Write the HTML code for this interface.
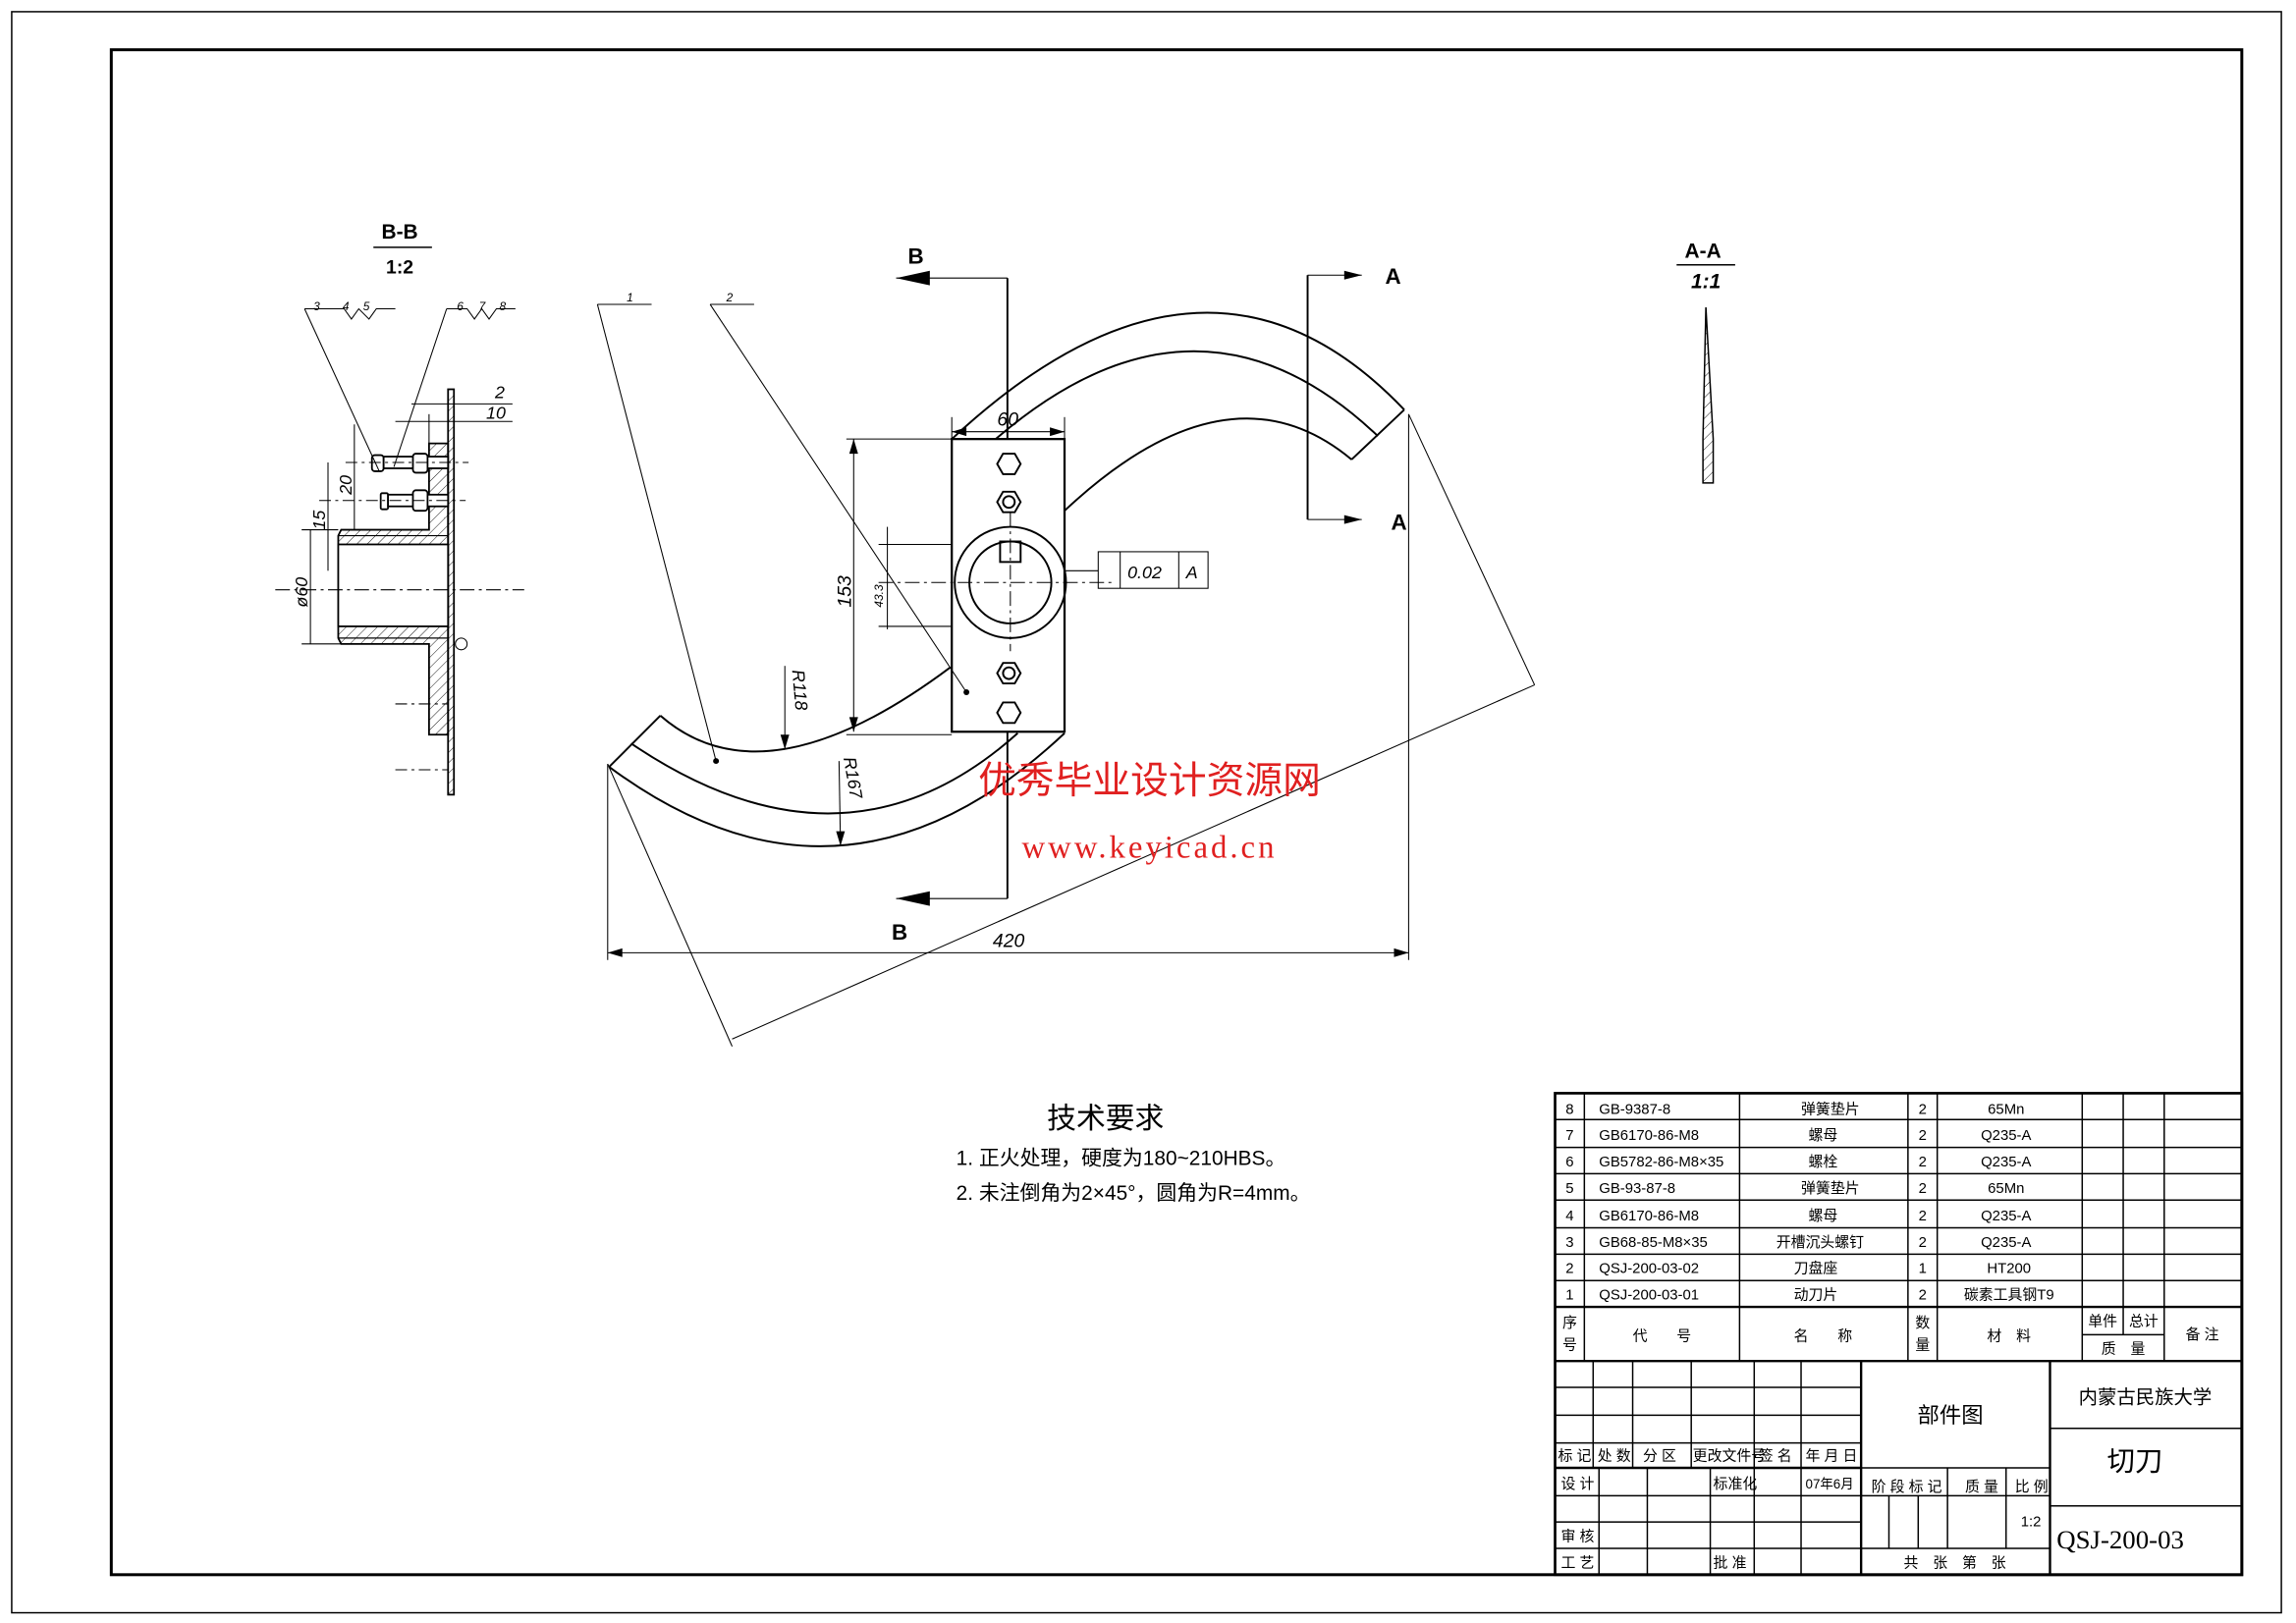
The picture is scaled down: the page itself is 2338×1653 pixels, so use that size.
<!DOCTYPE html>
<html><head><meta charset="utf-8"><style>
html,body{margin:0;padding:0;background:#fff;}
svg{display:block;}
text{font-family:"Liberation Sans","Noto Sans CJK SC",sans-serif;fill:#000;}
</style></head><body>
<svg width="2338" height="1653" viewBox="0 0 1568 1109" preserveAspectRatio="none" xmlns="http://www.w3.org/2000/svg">
<defs>
<pattern id="h" width="5" height="5" patternUnits="userSpaceOnUse" patternTransform="rotate(45)">
<line x1="0" y1="0" x2="0" y2="5" stroke="#000" stroke-width="0.6"/>
</pattern>
</defs>
<rect x="0" y="0" width="1568" height="1109" fill="#fff"/>
<rect x="8" y="8" width="1550" height="1094" fill="none" stroke="#000" stroke-width="1"/>
<rect x="76" y="34" width="1455" height="1042" fill="none" stroke="#000" stroke-width="2"/>

<g fill="none" stroke="#000" stroke-width="1.3">
<path d="M650,300 Q824,138 959,280"/>
<path d="M680,300 Q818,181 941,298"/>
<path d="M727,349 Q839,244 923,314"/>
<line x1="959" y1="280" x2="923" y2="314"/>
<path d="M649,456 Q522,551 451,489"/>
<path d="M695,501 Q577,607 431,508"/>
<path d="M727,501 Q576,643 416,524"/>
<line x1="451" y1="489" x2="416" y2="524"/>
<rect x="650" y="300" width="77" height="200" stroke-width="1.5"/>
<circle cx="690" cy="398" r="38"/>
<circle cx="690" cy="398" r="28"/>
<rect x="683" y="370" width="14" height="14"/>
<polygon points="681,317 685,310 693,310 697,317 693,324 685,324"/>
<polygon points="681,343 685,336 693,336 697,343 693,350 685,350"/>
<circle cx="689" cy="343" r="4"/>
<polygon points="681,460 685,453 693,453 697,460 693,467 685,467"/>
<circle cx="689" cy="460" r="4"/>
<polygon points="681,487 685,480 693,480 697,487 693,494 685,494"/>
</g>
<g fill="none" stroke="#000" stroke-width="0.7">
<line x1="600" y1="398" x2="760" y2="398" stroke-dasharray="10,3,2,3"/>
<line x1="690" y1="350" x2="690" y2="445" stroke-dasharray="10,3,2,3"/>
<line x1="688" y1="190" x2="688" y2="300" stroke-width="1.3"/>
<line x1="688" y1="190" x2="612" y2="190"/>
<line x1="688" y1="500" x2="688" y2="614" stroke-width="1.3"/>
<line x1="688" y1="614" x2="612" y2="614"/>
<line x1="893" y1="188" x2="893" y2="355" stroke-width="1.3"/>
<line x1="893" y1="188" x2="930" y2="188"/>
<line x1="893" y1="355" x2="930" y2="355"/>
<line x1="415" y1="522" x2="415" y2="656"/>
<line x1="962" y1="283" x2="962" y2="656"/>
<line x1="415" y1="651" x2="962" y2="651"/>
<line x1="415" y1="522" x2="500" y2="715"/>
<line x1="962" y1="283" x2="1048" y2="468"/>
<line x1="500" y1="710" x2="1048" y2="468"/>
<line x1="578" y1="300" x2="650" y2="300"/>
<line x1="578" y1="502" x2="650" y2="502"/>
<line x1="583" y1="300" x2="583" y2="500"/>
<line x1="606" y1="360" x2="606" y2="430"/>
<line x1="600" y1="372" x2="650" y2="372"/>
<line x1="600" y1="428" x2="650" y2="428"/>
<line x1="650" y1="285" x2="650" y2="300"/>
<line x1="727" y1="285" x2="727" y2="300"/>
<line x1="650" y1="295" x2="727" y2="295"/>
<line x1="536" y1="455" x2="536" y2="512"/>
<line x1="573" y1="520" x2="574" y2="578"/>
<line x1="408" y1="208" x2="445" y2="208"/>
<line x1="408" y1="208" x2="489" y2="520"/>
<line x1="485" y1="208" x2="515" y2="208"/>
<line x1="485" y1="208" x2="660" y2="473"/>
<rect x="750" y="377" width="75" height="25"/>
<line x1="765" y1="377" x2="765" y2="402"/>
<line x1="805" y1="377" x2="805" y2="402"/>
<line x1="727" y1="390" x2="750" y2="390"/>
</g>
<circle cx="489" cy="520" r="2"/>
<circle cx="660" cy="473" r="2"/>
<polygon points="612,190 635,185 635,195"/>
<polygon points="612,614 635,609 635,619"/>
<polygon points="930,188 918,185 918,191"/>
<polygon points="930,355 918,352 918,358"/>
<polygon points="650,295 660,292 660,298"/>
<polygon points="727,295 717,292 717,298"/>
<polygon points="583,300 580,310 586,310"/>
<polygon points="583,500 580,490 586,490"/>
<polygon points="415,651 425,648 425,654"/>
<polygon points="962,651 952,648 952,654"/>
<polygon points="536,512 533,502 539,502"/>
<polygon points="574,578 571,568 577,568"/>
<text x="620" y="180" font-size="15" font-weight="bold">B</text>
<text x="609" y="642" font-size="15" font-weight="bold">B</text>
<text x="946" y="194" font-size="15" font-weight="bold">A</text>
<text x="950" y="362" font-size="15" font-weight="bold">A</text>
<text x="678" y="647" font-size="13" font-style="italic">420</text>
<text x="681" y="291" font-size="13" font-style="italic">60</text>
<text x="581" y="415" font-size="13" font-style="italic" transform="rotate(-90 581 415)">153</text>
<text x="603" y="415" font-size="8" font-style="italic" transform="rotate(-90 603 415)">43.3</text>
<text x="541" y="458" font-size="12" font-style="italic" transform="rotate(85 541 458)">R118</text>
<text x="576" y="518" font-size="12" font-style="italic" transform="rotate(80 576 518)">R167</text>
<text x="770" y="395" font-size="12" font-style="italic">0.02</text>
<text x="810" y="395" font-size="12" font-style="italic">A</text>
<text x="428" y="206" font-size="8" font-style="italic">1</text>
<text x="496" y="206" font-size="8" font-style="italic">2</text>

<text x="785" y="542" font-size="26" style="fill:#e02020" text-anchor="middle">优秀毕业设计资源网</text>
<text x="785" y="586" font-size="22" letter-spacing="2" style="fill:#e02020;font-family:'Liberation Serif',serif" text-anchor="middle">www.keyicad.cn</text>

<text x="273" y="163" font-size="14" font-weight="bold" text-anchor="middle">B-B</text>
<line x1="255" y1="169" x2="295" y2="169" stroke="#000"/>
<text x="273" y="187" font-size="13" font-weight="bold" text-anchor="middle">1:2</text>
<g stroke="#000" stroke-width="1.2">
<rect x="306" y="266" width="4" height="277" fill="url(#h)"/>
<path d="M293,303 L306,303 L306,502 L293,502 L293,440 L233,440 L231,436 L231,366 L233,362 L293,362 Z" fill="url(#h)"/>
<rect x="231" y="372" width="75" height="56" fill="#fff"/>
<line x1="231" y1="366" x2="306" y2="366" stroke-width="0.8"/>
<line x1="231" y1="436" x2="306" y2="436" stroke-width="0.8"/>
<rect x="254" y="311" width="8" height="11" rx="2" fill="#fff"/>
<rect x="262" y="312" width="44" height="8" fill="#fff"/>
<rect x="282" y="310" width="10" height="13" rx="2" fill="#fff"/>
<rect x="260" y="337" width="5" height="11" rx="1" fill="#fff"/>
<rect x="265" y="338" width="41" height="8" fill="#fff"/>
<rect x="282" y="335" width="10" height="14" rx="2" fill="#fff"/>
</g>
<g fill="none" stroke="#000" stroke-width="0.7">
<polyline points="208,211 235,211 240,218 245,211 252,218 257,211 270,211"/>
<line x1="208" y1="211" x2="259" y2="322"/>
<polyline points="305,211 319,211 324,218 329,211 334,218 339,211 352,211"/>
<line x1="305" y1="211" x2="269" y2="319"/>
<line x1="188" y1="403" x2="358" y2="403" stroke-dasharray="10,3,2,3"/>
<line x1="236" y1="316" x2="320" y2="316" stroke-dasharray="8,3,2,3"/>
<line x1="218" y1="342" x2="318" y2="342" stroke-dasharray="8,3,2,3"/>
<line x1="212" y1="362" x2="212" y2="440"/>
<line x1="206" y1="362" x2="231" y2="362"/>
<line x1="206" y1="440" x2="233" y2="440"/>
<line x1="224" y1="316" x2="224" y2="390"/>
<line x1="242" y1="290" x2="242" y2="362"/>
<line x1="281" y1="276" x2="350" y2="276"/>
<line x1="270" y1="288" x2="350" y2="288"/>
<line x1="293" y1="283" x2="293" y2="303"/>
<line x1="270" y1="526" x2="306" y2="526" stroke-dasharray="8,3,2,3"/>
<line x1="270" y1="481" x2="306" y2="481" stroke-dasharray="8,3,2,3"/>
</g>
<text x="338" y="272" font-size="12" font-style="italic">2</text>
<text x="332" y="286" font-size="12" font-style="italic">10</text>
<text x="240" y="338" font-size="12" font-style="italic" transform="rotate(-90 240 338)">20</text>
<text x="222" y="362" font-size="12" font-style="italic" transform="rotate(-90 222 362)">15</text>
<text x="210" y="415" font-size="12" font-style="italic" transform="rotate(-90 210 415)">ø60</text>
<text x="214" y="212" font-size="8" font-style="italic">3</text>
<text x="234" y="212" font-size="8" font-style="italic">4</text>
<text x="248" y="212" font-size="8" font-style="italic">5</text>
<text x="312" y="212" font-size="8" font-style="italic">6</text>
<text x="327" y="212" font-size="8" font-style="italic">7</text>
<text x="341" y="212" font-size="8" font-style="italic">8</text>
<circle cx="315" cy="440" r="4" fill="none" stroke="#000" stroke-width="0.7"/>

<text x="1163" y="176" font-size="14" font-weight="bold" text-anchor="middle">A-A</text>
<line x1="1145" y1="181" x2="1185" y2="181" stroke="#000"/>
<text x="1165" y="197" font-size="14" font-weight="bold" font-style="italic" text-anchor="middle">1:1</text>
<polygon points="1165,210 1170,300 1170,330 1163,330 1163,300" fill="url(#h)" stroke="#000"/>

<text x="755" y="771" font-size="20" text-anchor="middle">技术要求</text>
<text x="653" y="796" font-size="14">1. 正火处理，硬度为180~210HBS。</text>
<text x="653" y="820" font-size="14">2. 未注倒角为2×45°，圆角为R=4mm。</text>

<g fill="none" stroke="#000" stroke-width="1">
<rect x="1062" y="747" width="469" height="329" stroke-width="1.8"/>
<line x1="1062" y1="765" x2="1531" y2="765"/>
<line x1="1062" y1="784" x2="1531" y2="784"/>
<line x1="1062" y1="802" x2="1531" y2="802"/>
<line x1="1062" y1="820" x2="1531" y2="820"/>
<line x1="1062" y1="839" x2="1531" y2="839"/>
<line x1="1062" y1="857" x2="1531" y2="857"/>
<line x1="1062" y1="875" x2="1531" y2="875"/>
<line x1="1062" y1="893" x2="1531" y2="893" stroke-width="1.6"/>
<line x1="1062" y1="930" x2="1531" y2="930" stroke-width="1.6"/>
<line x1="1082" y1="747" x2="1082" y2="930"/>
<line x1="1188" y1="747" x2="1188" y2="930"/>
<line x1="1303" y1="747" x2="1303" y2="930"/>
<line x1="1323" y1="747" x2="1323" y2="930"/>
<line x1="1422" y1="747" x2="1422" y2="930"/>
<line x1="1450" y1="747" x2="1450" y2="912"/>
<line x1="1478" y1="747" x2="1478" y2="930"/>
<line x1="1422" y1="912" x2="1478" y2="912"/>
<line x1="1271" y1="930" x2="1271" y2="1076" stroke-width="1.6"/>
<line x1="1400" y1="930" x2="1400" y2="1076" stroke-width="1.6"/>
<line x1="1062" y1="948" x2="1271" y2="948"/>
<line x1="1062" y1="967" x2="1271" y2="967"/>
<line x1="1062" y1="986" x2="1271" y2="986"/>
<line x1="1062" y1="1003" x2="1271" y2="1003" stroke-width="1.6"/>
<line x1="1062" y1="1022" x2="1271" y2="1022"/>
<line x1="1062" y1="1040" x2="1271" y2="1040"/>
<line x1="1062" y1="1058" x2="1271" y2="1058"/>
<line x1="1088" y1="930" x2="1088" y2="1003"/>
<line x1="1115" y1="930" x2="1115" y2="1003"/>
<line x1="1155" y1="930" x2="1155" y2="1003"/>
<line x1="1198" y1="930" x2="1198" y2="1003"/>
<line x1="1230" y1="930" x2="1230" y2="1003"/>
<line x1="1092" y1="1003" x2="1092" y2="1076"/>
<line x1="1125" y1="1003" x2="1125" y2="1076"/>
<line x1="1168" y1="1003" x2="1168" y2="1076"/>
<line x1="1198" y1="1003" x2="1198" y2="1076"/>
<line x1="1230" y1="1003" x2="1230" y2="1076"/>
<line x1="1271" y1="1003" x2="1400" y2="1003"/>
<line x1="1271" y1="1022" x2="1400" y2="1022"/>
<line x1="1271" y1="1058" x2="1400" y2="1058"/>
<line x1="1290" y1="1022" x2="1290" y2="1058"/>
<line x1="1310" y1="1022" x2="1310" y2="1058"/>
<line x1="1330" y1="1003" x2="1330" y2="1058"/>
<line x1="1370" y1="1003" x2="1370" y2="1058"/>
<line x1="1400" y1="976" x2="1531" y2="976"/>
<line x1="1400" y1="1029" x2="1531" y2="1029"/>
</g>
<g font-size="10">
<text x="1072" y="761" text-anchor="middle">8</text><text x="1092" y="761">GB-9387-8</text><text x="1250" y="761" text-anchor="middle">弹簧垫片</text><text x="1313" y="761" text-anchor="middle">2</text><text x="1370" y="761" text-anchor="middle">65Mn</text>
<text x="1072" y="779" text-anchor="middle">7</text><text x="1092" y="779">GB6170-86-M8</text><text x="1245" y="779" text-anchor="middle">螺母</text><text x="1313" y="779" text-anchor="middle">2</text><text x="1370" y="779" text-anchor="middle">Q235-A</text>
<text x="1072" y="797" text-anchor="middle">6</text><text x="1092" y="797">GB5782-86-M8×35</text><text x="1245" y="797" text-anchor="middle">螺栓</text><text x="1313" y="797" text-anchor="middle">2</text><text x="1370" y="797" text-anchor="middle">Q235-A</text>
<text x="1072" y="815" text-anchor="middle">5</text><text x="1092" y="815">GB-93-87-8</text><text x="1250" y="815" text-anchor="middle">弹簧垫片</text><text x="1313" y="815" text-anchor="middle">2</text><text x="1370" y="815" text-anchor="middle">65Mn</text>
<text x="1072" y="834" text-anchor="middle">4</text><text x="1092" y="834">GB6170-86-M8</text><text x="1245" y="834" text-anchor="middle">螺母</text><text x="1313" y="834" text-anchor="middle">2</text><text x="1370" y="834" text-anchor="middle">Q235-A</text>
<text x="1072" y="852" text-anchor="middle">3</text><text x="1092" y="852">GB68-85-M8×35</text><text x="1243" y="852" text-anchor="middle">开槽沉头螺钉</text><text x="1313" y="852" text-anchor="middle">2</text><text x="1370" y="852" text-anchor="middle">Q235-A</text>
<text x="1072" y="870" text-anchor="middle">2</text><text x="1092" y="870">QSJ-200-03-02</text><text x="1240" y="870" text-anchor="middle">刀盘座</text><text x="1313" y="870" text-anchor="middle">1</text><text x="1372" y="870" text-anchor="middle">HT200</text>
<text x="1072" y="888" text-anchor="middle">1</text><text x="1092" y="888">QSJ-200-03-01</text><text x="1240" y="888" text-anchor="middle">动刀片</text><text x="1313" y="888" text-anchor="middle">2</text><text x="1372" y="888" text-anchor="middle">碳素工具钢T9</text>
<text x="1072" y="907" text-anchor="middle">序</text><text x="1072" y="922" text-anchor="middle">号</text>
<text x="1135" y="916" text-anchor="middle">代　　号</text><text x="1245" y="916" text-anchor="middle">名　　称</text>
<text x="1313" y="907" text-anchor="middle">数</text><text x="1313" y="922" text-anchor="middle">量</text>
<text x="1372" y="916" text-anchor="middle">材　料</text>
<text x="1436" y="906" text-anchor="middle">单件</text><text x="1464" y="906" text-anchor="middle">总计</text><text x="1450" y="925" text-anchor="middle">质　量</text>
<text x="1504" y="915" text-anchor="middle">备 注</text>
<text x="1064" y="998">标 记</text><text x="1091" y="998">处 数</text><text x="1122" y="998">分 区</text><text x="1156" y="998">更改文件号</text><text x="1201" y="998">签 名</text><text x="1233" y="998">年 月 日</text>
<text x="1066" y="1017">设 计</text><text x="1170" y="1017">标准化</text><text x="1233" y="1017" font-size="9">07年6月</text>
<text x="1066" y="1053">审 核</text>
<text x="1066" y="1071">工 艺</text><text x="1170" y="1071">批 准</text>
<text x="1278" y="1019">阶 段 标 记</text><text x="1342" y="1019">质 量</text><text x="1376" y="1019">比 例</text>
<text x="1387" y="1043" text-anchor="middle">1:2</text>
<text x="1335" y="1071" text-anchor="middle">共　张　第　张</text>
</g>
<text x="1332" y="972" font-size="15" text-anchor="middle">部件图</text>
<text x="1465" y="959" font-size="13" text-anchor="middle">内蒙古民族大学</text>
<text x="1458" y="1005" font-size="19" text-anchor="middle">切刀</text>
<text x="1448" y="1058" font-size="18" text-anchor="middle" style="font-family:'Liberation Serif',serif">QSJ-200-03</text>
</svg>
</body></html>
